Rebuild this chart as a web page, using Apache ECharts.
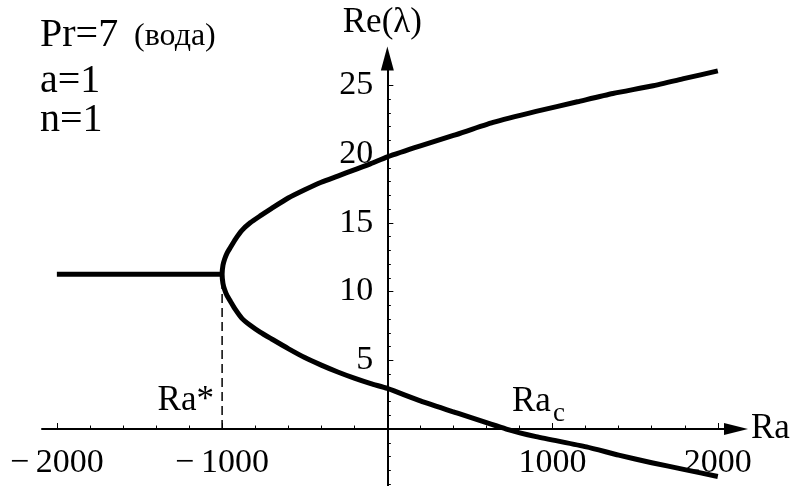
<!DOCTYPE html>
<html>
<head>
<meta charset="utf-8">
<script src="https://cdn.jsdelivr.net/npm/echarts@6/dist/echarts.min.js"></script>
<style>
  html, body { margin: 0; padding: 0; background: #fff; }
  #chart { width: 795px; height: 486px; }
</style>
</head>
<body>
<div id="chart"></div>
<script>
// Branch of Re(λ) for Ra below Ra*
const raFlat = [-2000, -1000];
const reFlat = [11.25, 11.25];

// Upper branch of Re(λ) after the bifurcation
const raUpper = [-1000, -995, -985, -970, -950, -920, -880, -830, -770, -700, -600, -500, -400, -300, -200, -100, 0, 200, 400, 640, 900, 1150, 1365, 1600, 1800, 2000];
const reUpper = [11.25, 11.9, 12.35, 12.8, 13.2, 13.8, 14.45, 15.0, 15.5, 16.05, 16.8, 17.4, 17.95, 18.4, 18.85, 19.3, 19.8, 20.6, 21.35, 22.3, 23.1, 23.8, 24.4, 24.95, 25.5, 26.05];

// Lower branch of Re(λ) after the bifurcation
const raLower = [-1000, -995, -985, -970, -950, -920, -880, -830, -770, -700, -600, -500, -400, -300, -200, -100, 0, 200, 400, 720, 900, 1205, 1400, 1600, 1800, 2000];
const reLower = [11.25, 10.6, 10.15, 9.7, 9.3, 8.7, 8.05, 7.55, 7.05, 6.55, 5.85, 5.2, 4.65, 4.15, 3.7, 3.3, 2.95, 2.05, 1.25, 0, -0.55, -1.3, -1.9, -2.45, -2.95, -3.45];

// Ra* marker
const raStar = -1000;
const reStar = 11.25;

// Axis ticks
const xMajorTicks = [-2000, -1000, 1000, 2000];
const xMinorTicks = [-1800, -1600, -1400, -1200, -800, -600, -400, -200, 200, 400, 600, 800, 1200, 1400, 1600, 1800];
const yMajorTicks = [5, 10, 15, 20, 25];
const yMinorTicks = [-4, -3, -2, -1, 1, 2, 3, 4, 6, 7, 8, 9, 11, 12, 13, 14, 16, 17, 18, 19, 21, 22, 23, 24];

const FONT = '"Liberation Serif", "Times New Roman", serif';

const zip = (xs, ys) => xs.map((x, i) => [x, ys[i]]);
// upper branch traced back to the turning point, then down the lower branch
const parabola = zip(raUpper, reUpper).reverse().concat(zip(raLower, reLower).slice(1));

const chart = echarts.init(document.getElementById('chart'), null, { renderer: 'canvas' });

const xRange = { min: -2090, max: 2110 };
const yRange = { min: -4.1, max: 26.95 };

const tickLabel = {
  color: '#000', fontFamily: FONT, fontSize: 34
};
// secondary axes only carry the long ticks and labels; their line stays invisible
const hiddenLine = () => ({ show: true, onZero: true, onZeroAxisIndex: 0, symbol: 'none',
  lineStyle: { color: '#000', width: 0, opacity: 0 } });

chart.setOption({
  animation: false,
  backgroundColor: '#fff',
  grid: { left: 42, right: 59, top: 58.5, bottom: 0.6, containLabel: false, outerBoundsMode: 'none' },
  xAxis: [
    {
      type: 'value', position: 'bottom', ...xRange,
      axisLine: { show: true, onZero: true, onZeroAxisIndex: 0,
        symbol: ['none', 'triangle'], symbolSize: [12, 24],
        lineStyle: { color: '#000', width: 2 } },
      axisTick: { show: true, inside: true, length: 3.5, customValues: xMinorTicks,
        lineStyle: { color: '#000', width: 1 } },
      axisLabel: { show: false },
      splitLine: { show: false },
      name: 'Ra', nameLocation: 'end', nameGap: 15,
      nameTextStyle: { color: '#000', fontFamily: FONT, fontSize: 35, align: 'left', verticalAlign: 'middle' }
    },
    {
      type: 'value', position: 'bottom', ...xRange,
      axisLine: hiddenLine(),
      axisTick: { show: true, inside: true, length: 6, customValues: xMajorTicks,
        lineStyle: { color: '#000', width: 1 } },
      axisLabel: { ...tickLabel, margin: 17, customValues: xMajorTicks,
        formatter: v => (v < 0 ? '\u2212\u2009' : '') + Math.abs(v) },
      splitLine: { show: false }
    }
  ],
  yAxis: [
    {
      type: 'value', position: 'left', ...yRange,
      axisLine: { show: true, onZero: true, onZeroAxisIndex: 0,
        symbol: ['none', 'triangle'], symbolSize: [13, 24],
        lineStyle: { color: '#000', width: 2 } },
      axisTick: { show: true, inside: true, length: 3.5, customValues: yMinorTicks,
        lineStyle: { color: '#000', width: 1 } },
      axisLabel: { show: false },
      splitLine: { show: false },
      name: 'Re(λ)', nameLocation: 'end', nameGap: 18,
      nameTextStyle: { color: '#000', fontFamily: FONT, fontSize: 35, align: 'center', verticalAlign: 'bottom', padding: [0, 10, 0, 0] }
    },
    {
      type: 'value', position: 'left', ...yRange,
      axisLine: hiddenLine(),
      axisTick: { show: true, inside: true, length: 6, customValues: yMajorTicks,
        lineStyle: { color: '#000', width: 1 } },
      axisLabel: { ...tickLabel, margin: 14, customValues: yMajorTicks },
      splitLine: { show: false }
    }
  ],
  series: [
    {
      type: 'line', xAxisIndex: 0, yAxisIndex: 0, data: zip(raFlat, reFlat),
      showSymbol: false, lineStyle: { color: '#000', width: 5 }, z: 5
    },
    {
      type: 'line', xAxisIndex: 0, yAxisIndex: 0, data: parabola,
      showSymbol: false, smooth: 0.2, lineStyle: { color: '#000', width: 5, join: 'round' }, z: 5
    },
    {
      type: 'line', xAxisIndex: 0, yAxisIndex: 0, data: [[raStar, 0], [raStar, reStar]],
      showSymbol: false, lineStyle: { color: '#000', width: 1.5, type: [9, 5] }, z: 4
    }
  ],
  graphic: [
    { type: 'text', style: { x: 40, y: 35, text: 'Pr=7', font: '40px ' + FONT, fill: '#000', verticalAlign: 'middle' } },
    { type: 'text', style: { x: 134, y: 37, text: '(вода)', font: '32px ' + FONT, fill: '#000', verticalAlign: 'middle' } },
    { type: 'text', style: { x: 40, y: 81, text: 'a=1', font: '40px ' + FONT, fill: '#000', verticalAlign: 'middle' } },
    { type: 'text', style: { x: 40, y: 120, text: 'n=1', font: '40px ' + FONT, fill: '#000', verticalAlign: 'middle' } },
    { type: 'text', style: { x: 214, y: 401, text: 'Ra*', font: '35px ' + FONT, fill: '#000', align: 'right', verticalAlign: 'middle' } },
    { type: 'text', style: { x: 512, y: 402, text: 'Ra', font: '35px ' + FONT, fill: '#000', verticalAlign: 'middle' } },
    { type: 'text', style: { x: 553, y: 414, text: 'c', font: '27px ' + FONT, fill: '#000', verticalAlign: 'middle' } }
  ]
});

// Tick labels are laid out from the grid edge even when the axis sits on zero,
// so shift them back next to the crossing axes.
const origin = chart.convertToPixel({ xAxisIndex: 0, yAxisIndex: 0 }, [0, 0]);
const rect = chart.getModel().getComponent('grid', 0).coordinateSystem.getRect();
chart.setOption({
  xAxis: [{}, { axisLabel: { margin: 17 - (rect.y + rect.height - origin[1]) } }],
  yAxis: [{}, { axisLabel: { margin: 14 - (origin[0] - rect.x) } }]
});
</script>
</body>
</html>
